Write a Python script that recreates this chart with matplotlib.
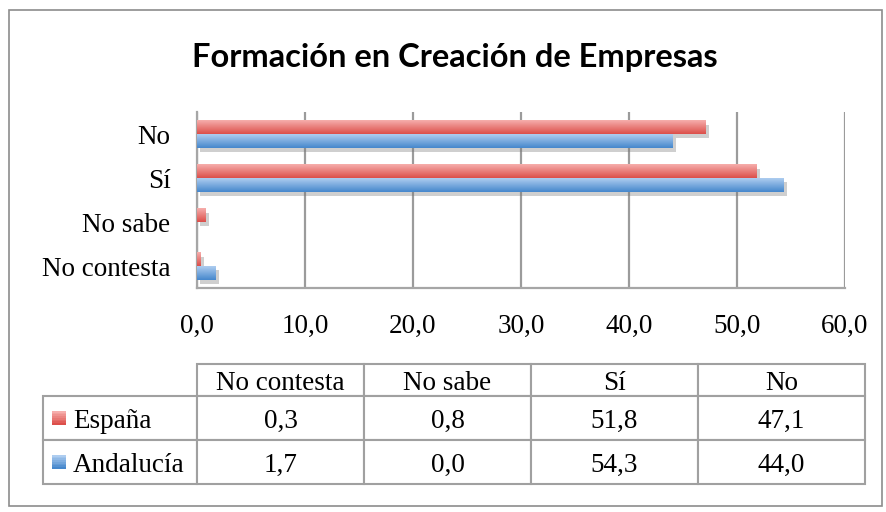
import matplotlib
matplotlib.use("Agg")
import matplotlib.pyplot as plt
import numpy as np
from matplotlib.colors import LinearSegmentedColormap
from matplotlib.patches import Rectangle
from matplotlib.ticker import FuncFormatter
from matplotlib.transforms import Affine2D
import matplotlib.patheffects as pe

categories = ["No contesta", "No sabe", "Sí", "No"]
series_names = ["España", "Andalucía"]
espana = [0.3, 0.8, 51.8, 47.1]
andalucia = [1.7, 0.0, 54.3, 44.0]
x_ticks = [0, 10, 20, 30, 40, 50, 60]

serif = ["Liberation Serif", "DejaVu Serif"]
fsize = 19.5
grid_color = "#9b9b9b"
grads = {
    "España": ("#dc4f4a", "#f6aeac"),
    "Andalucía": ("#4587cc", "#aecdf0"),
}

fig = plt.figure(figsize=(8.86, 5.12), dpi=100)
fig.patches.append(Rectangle((9 / 886, 1 - 506 / 512), 873 / 886, 496 / 512,
                             transform=fig.transFigure, fill=False,
                             edgecolor="#8c8c8c", linewidth=1.2))

fig.text(455 / 886, 1 - 58 / 512, "Formación en Creación de Empresas",
         ha="center", va="center", fontsize=23.5, fontweight="bold",
         family=["Lato", "DejaVu Sans"])

ax = fig.add_axes([197 / 886, 1 - 288 / 512, 648 / 886, 176 / 512])
y = np.arange(len(categories))
h = 0.31

def grad_bars(vals, offset, name):
    lo, hi = grads[name]
    cmap = LinearSegmentedColormap.from_list(name, [lo, hi])
    bars = ax.barh(y + offset, vals, height=h, color=lo, linewidth=0, zorder=3,
                   path_effects=[pe.SimplePatchShadow(offset=(2.5, -3), shadow_rgbFace="#777777", alpha=0.35),
                                 pe.Normal()])
    g = np.linspace(0, 1, 64).reshape(-1, 1)
    for b in bars:
        if b.get_width() <= 0:
            continue
        x0, y0 = b.get_x(), b.get_y()
        im = ax.imshow(g, cmap=cmap, origin="lower", aspect="auto",
                       extent=[x0, x0 + b.get_width(), y0, y0 + b.get_height()],
                       zorder=4, interpolation="bilinear")
        im.set_clip_path(b)

grad_bars(espana, h / 2, "España")
grad_bars(andalucia, -h / 2, "Andalucía")

ax.set_xlim(0, 60)
ax.set_ylim(-0.5, 3.5)
ax.set_xticks(x_ticks)
ax.xaxis.set_major_formatter(FuncFormatter(lambda v, p: f"{v:.1f}".replace(".", ",")))
ax.set_yticks(y)
ax.set_yticklabels(categories)
ax.grid(axis="x", color=grid_color, linewidth=1.6, zorder=0)
ax.set_axisbelow(True)
for s in ["top", "right"]:
    ax.spines[s].set_visible(False)
for s in ["left", "bottom"]:
    ax.spines[s].set_color("#a6a6a6")
    ax.spines[s].set_linewidth(1.6)
ax.tick_params(axis="both", length=0, labelsize=fsize)
ax.tick_params(axis="y", pad=19)
ax.tick_params(axis="x", pad=19)
for t in ax.get_xticklabels() + ax.get_yticklabels():
    t.set_family(serif)

# data table (bbox covers the value grid, row labels hang to its left)
tax = fig.add_axes([43 / 886, 1 - 484 / 512, 822 / 886, 120 / 512])
tax.axis("off")
cell_text = [[f"{v:.1f}".replace(".", ",") for v in espana],
             [f"{v:.1f}".replace(".", ",") for v in andalucia]]
col_w = 167 / 822
lab_w = 154 / 822
tbl = tax.table(cellText=cell_text, colLabels=categories,
                rowLabels=series_names, colWidths=[col_w] * 4,
                rowLoc="left", cellLoc="center",
                colLoc="center", bbox=[lab_w, 0, 4 * col_w, 1])
tbl.auto_set_font_size(False)
if hasattr(tbl, "_autoColumns"):
    tbl._autoColumns = [c for c in tbl._autoColumns if c != -1]
for (r, c), cell in tbl.get_celld().items():
    cell.set_edgecolor("#a0a0a0")
    cell.set_linewidth(1.5)
    cell.set_height(32 if r == 0 else 44)
    txt = cell.get_text()
    txt.set_fontsize(fsize)
    txt.set_family(serif)
    txt.set_transform(Affine2D().translate(0, -3))
    if c == -1:
        cell.set_width(lab_w)
        cell.PAD = 30 / 154

# legend keys in the row labels
n_steps = 8
for i, n in enumerate(series_names):
    cmap = LinearSegmentedColormap.from_list(n, list(grads[n]))
    top = 411 + i * 44
    for k in range(n_steps):
        fig.patches.append(Rectangle((52 / 886, 1 - (top + 14 * (k + 1) / n_steps) / 512),
                                     14 / 886, 14 / n_steps / 512 * 1.05,
                                     transform=fig.transFigure,
                                     facecolor=cmap(1 - k / (n_steps - 1)),
                                     edgecolor="none"))

fig.savefig("out.png", dpi=100)
